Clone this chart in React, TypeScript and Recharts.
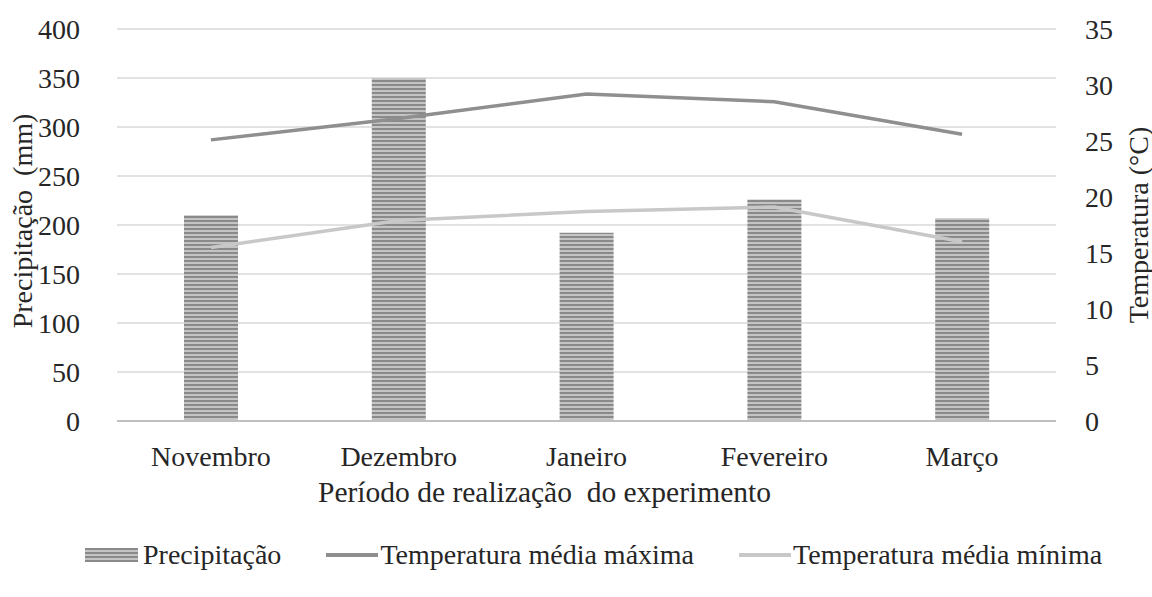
import React from "react";
import {
  ComposedChart,
  Bar,
  Line,
  XAxis,
  YAxis,
  CartesianGrid,
  Label,
} from "recharts";

const months = ["Novembro", "Dezembro", "Janeiro", "Fevereiro", "Março"];
const precipitacao = [210, 350, 192, 226, 207];
const tempMax = [25.1, 27.0, 29.2, 28.5, 25.6];
const tempMin = [15.5, 17.9, 18.7, 19.1, 16.0];
const leftTicks = [0, 50, 100, 150, 200, 250, 300, 350, 400];
const rightTicks = [0, 5, 10, 15, 20, 25, 30, 35];

const FONT = "Liberation Serif";
const TEXT = "#262626";
const FS = 28;

const data = months.map((m, i) => ({
  month: m,
  prec: precipitacao[i],
  tmax: tempMax[i],
  tmin: tempMin[i],
}));

const legendItems = [
  { key: "prec", name: "Precipitação", kind: "bar", color: "#9a9a9a" },
  { key: "tmax", name: "Temperatura média máxima", kind: "line", color: "#8f8f8f" },
  { key: "tmin", name: "Temperatura média mínima", kind: "line", color: "#c8c8c8" },
];

const ChartLegend = () => (
  <div
    style={{
      position: "absolute",
      left: 85,
      top: 539,
      display: "flex",
      alignItems: "center",
      fontFamily: FONT,
      fontSize: FS,
      color: TEXT,
      gap: 45,
      whiteSpace: "nowrap",
    }}
  >
    {legendItems.map((it) => (
      <div key={it.key} style={{ display: "flex", alignItems: "center" }}>
        {it.kind === "bar" ? (
          <svg width={53} height={14} style={{ marginRight: 5 }}>
            <rect width={53} height={14} fill="url(#stripes)" />
          </svg>
        ) : (
          <svg width={52} height={14} style={{ marginRight: 2 }}>
            <line x1={0} x2={52} y1={7} y2={7} stroke={it.color} strokeWidth={4} />
          </svg>
        )}
        <span>{it.name}</span>
      </div>
    ))}
  </div>
);

const App = () => {
  return (
    <div style={{ position: "absolute", left: 0, top: 0, width: 1152, height: 597, background: "#fff" }}>
      <ComposedChart
        width={1152}
        height={597}
        data={data}
        margin={{ top: 29, right: 0, left: 0, bottom: 0 }}
      >
        <defs>
          <pattern id="stripes" width={4} height={4} patternUnits="userSpaceOnUse">
            <rect width={4} height={4} fill="#c4c4c4" />
            <rect width={4} height={2} fill="#8a8a8a" />
          </pattern>
        </defs>
        <CartesianGrid vertical={false} stroke="#d9d9d9" strokeWidth={1.5} yAxisId="left" />
        <XAxis
          dataKey="month"
          height={176}
          tickSize={0}
          tickMargin={25}
          axisLine={{ stroke: "#bfbfbf", strokeWidth: 2 }}
          tick={{ fill: TEXT, fontSize: FS, fontFamily: FONT }}
        >
          <Label
            content={({ viewBox }: any) => (
              <text
                x={viewBox.x + viewBox.width / 2 - 42}
                y={viewBox.y + 71}
                textAnchor="middle"
                dominantBaseline="central"
                fill={TEXT}
                fontSize={29.5}
                fontFamily={FONT}
                style={{ whiteSpace: "pre" }}
              >
                Período de realização  do experimento
              </text>
            )}
          />
        </XAxis>
        <YAxis
          yAxisId="left"
          width={117}
          domain={[0, 400]}
          ticks={leftTicks}
          tickSize={0}
          tickMargin={37}
          axisLine={false}
          tickLine={false}
          tick={{ fill: TEXT, fontSize: FS, fontFamily: FONT }}
        >
          <Label
            content={({ viewBox }: any) => {
              const x = viewBox.x + 22;
              const y = viewBox.y + viewBox.height / 2 - 4;
              return (
                <text
                  x={x}
                  y={y}
                  transform={`rotate(-90 ${x} ${y})`}
                  textAnchor="middle"
                  dominantBaseline="central"
                  fill={TEXT}
                  fontSize={FS}
                  fontFamily={FONT}
                  style={{ whiteSpace: "pre" }}
                >
                  Precipitação  (mm)
                </text>
              );
            }}
          />
        </YAxis>
        <YAxis
          yAxisId="right"
          orientation="right"
          width={96}
          domain={[0, 35]}
          ticks={rightTicks}
          tickSize={0}
          tickMargin={29}
          axisLine={false}
          tickLine={false}
          tick={{ fill: TEXT, fontSize: FS, fontFamily: FONT, textAnchor: "start" }}
        >
          <Label
            content={({ viewBox }: any) => {
              const x = viewBox.x + 82;
              const y = viewBox.y + viewBox.height / 2;
              return (
                <text
                  x={x}
                  y={y}
                  transform={`rotate(-90 ${x} ${y})`}
                  textAnchor="middle"
                  dominantBaseline="central"
                  fill={TEXT}
                  fontSize={FS}
                  fontFamily={FONT}
                >
                  Temperatura (°C)
                </text>
              );
            }}
          />
        </YAxis>
        <Bar
          yAxisId="left"
          dataKey="prec"
          name="Precipitação"
          fill="url(#stripes)"
          barSize={54}
          isAnimationActive={false}
        />
        <Line
          yAxisId="right"
          dataKey="tmax"
          name="Temperatura média máxima"
          stroke="#8f8f8f"
          strokeWidth={3.5}
          dot={false}
          type="linear"
          isAnimationActive={false}
        />
        <Line
          yAxisId="right"
          dataKey="tmin"
          name="Temperatura média mínima"
          stroke="#c8c8c8"
          strokeWidth={3.5}
          dot={false}
          type="linear"
          isAnimationActive={false}
        />
      </ComposedChart>
      <ChartLegend />
    </div>
  );
};

export default App;
